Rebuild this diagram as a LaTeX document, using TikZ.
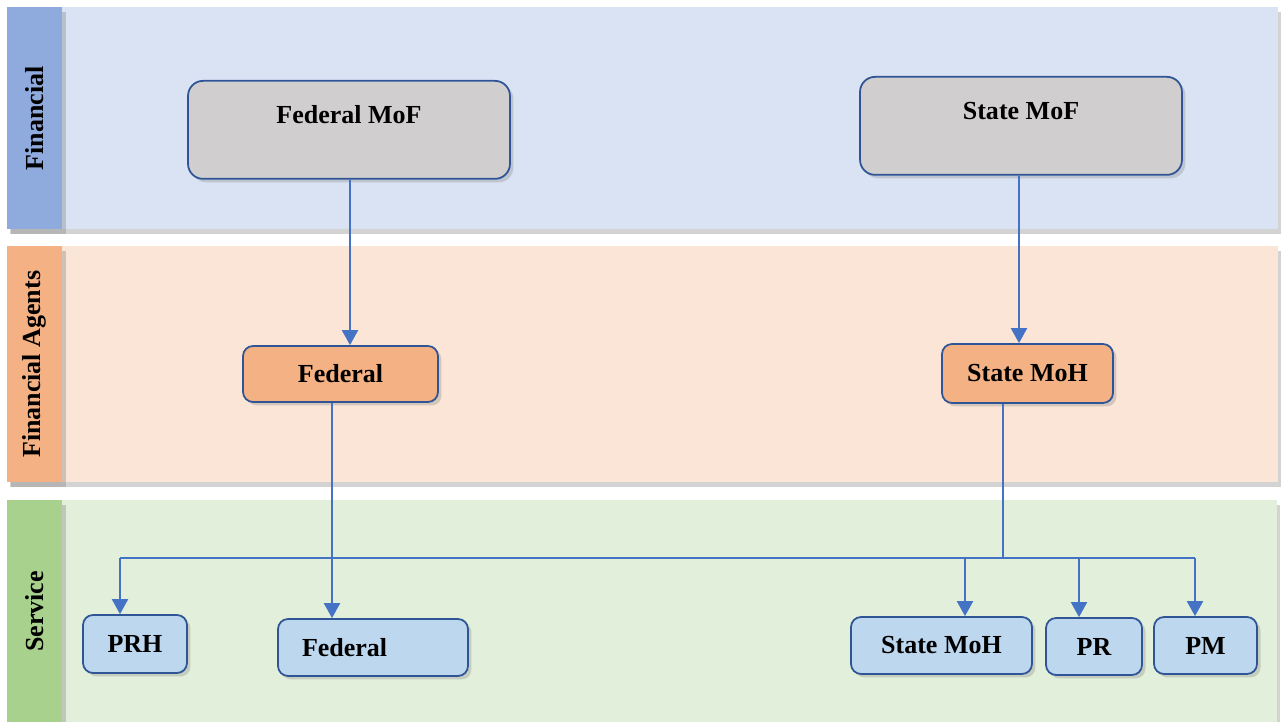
\documentclass[tikz,border=0pt]{standalone}
\usepackage{fontspec}
\setmainfont{Liberation Serif}
\usepackage{xcolor}
\usetikzlibrary{arrows.meta,shadows}

\definecolor{finbg}{HTML}{DAE3F3}
\definecolor{finhead}{HTML}{8FAADC}
\definecolor{agentbg}{HTML}{FBE5D6}
\definecolor{agenthead}{HTML}{F4B183}
\definecolor{servbg}{HTML}{E2EFDA}
\definecolor{servhead}{HTML}{A9D18E}
\definecolor{mofgray}{HTML}{D0CECE}
\definecolor{agentfill}{HTML}{F4B183}
\definecolor{servfill}{HTML}{BDD7EE}
\definecolor{boxline}{HTML}{2F5597}
\definecolor{linkblue}{HTML}{4472C4}

\tikzset{
	lane/.style={rectangle,anchor=north west,inner sep=0pt,
		drop shadow={opacity=0.35,shadow xshift=0.05cm,shadow yshift=-0.1cm}},
	lanehead/.style={rectangle,anchor=north west,inner sep=0pt,minimum width=1.1cm,
		drop shadow={opacity=0.35,shadow xshift=0.08cm,shadow yshift=-0.1cm}},
	lanetitle/.style={rotate=90,font=\fontsize{14.8}{17}\selectfont\bfseries},
	unit/.style={rectangle,rounded corners=0.2cm,draw=boxline,line width=0.035cm,
		font=\fontsize{14.8}{17}\selectfont\bfseries,inner sep=0pt,
		drop shadow={opacity=0.3,shadow xshift=0.07cm,shadow yshift=-0.07cm}},
	ministry/.style={unit,fill=mofgray,rounded corners=0.3cm,anchor=north,
		minimum width=6.44cm,text height=0.86cm,text depth=1.1cm},
	agent/.style={unit,fill=agentfill},
	provider/.style={unit,fill=servfill},
	link/.style={draw=linkblue,line width=0.04cm},
	flow/.style={link,-{Triangle[width=0.32cm,length=0.3cm]}}
}

\begin{document}
\begin{tikzpicture}[x=0.02cm,y=-0.02cm]
	\useasboundingbox (0,0) rectangle (1282,722);

	% swim lanes
	\node[lane,fill=finbg,minimum width=25.42cm,minimum height=4.44cm] (finlane) at (7,7) {};
	\node[lane,fill=agentbg,minimum width=25.42cm,minimum height=4.72cm] (agentlane) at (7,246) {};
	\node[lane,fill=servbg,minimum width=25.4cm,minimum height=4.44cm] (servlane) at (7,500) {};
	\node[lanehead,fill=finhead,minimum height=4.44cm] (finhead) at (7,7) {};
	\node[lanehead,fill=agenthead,minimum height=4.72cm] (agenthead) at (7,246) {};
	\node[lanehead,fill=servhead,minimum height=4.44cm] (servhead) at (7,500) {};
	\node[lanetitle] (fintitle) at (finhead.center) {Financial};
	\node[lanetitle] (agenttitle) at (agenthead.center) {Financial Agents};
	\node[lanetitle] (servtitle) at (34.5,611.5) {Service};

	% financial level
	\node[ministry] (fedmof) at (349,80) {Federal MoF};
	\node[ministry] (statemof) at (1021,76) {State MoF};

	% financial agents
	\node[agent,minimum width=3.9cm,minimum height=1.12cm] (fedagent) at (340.5,374) {Federal};
	\node[agent,minimum width=3.42cm,minimum height=1.18cm] (stateagent) at (1027.5,373.5) {State MoH};

	% service providers
	\node[provider,minimum width=2.08cm,minimum height=1.16cm] (prh) at (135,644) {PRH};
	\node[provider,minimum height=1.14cm,text width=2.84cm,inner xsep=0.48cm,align=left] (fedserv) at (373,647.5) {Federal};
	\node[provider,minimum width=3.62cm,minimum height=1.14cm] (stateserv) at (941.5,645.5) {State MoH};
	\node[provider,minimum width=1.92cm,minimum height=1.14cm] (pr) at (1094,646.5) {PR};
	\node[provider,minimum width=2.06cm,minimum height=1.14cm] (pm) at (1205.5,645.5) {PM};

	% distribution bus
	\coordinate (dprh) at (120,558);
	\coordinate (dfed) at (332,558);
	\coordinate (dstate) at (1003,558);
	\coordinate (dsmoh) at (965,558);
	\coordinate (dpr) at (1079,558);
	\coordinate (dpm) at (1195,558);

	\draw[flow] ([xshift=0.02cm]fedmof.south) -- ([xshift=0.02cm]fedmof.south |- fedagent.north);
	\draw[flow] ([xshift=-0.04cm]statemof.south) -- ([xshift=-0.04cm]statemof.south |- stateagent.north);
	\draw[link] (fedagent.south -| dfed) -- (dfed);
	\draw[link] (stateagent.south -| dstate) -- (dstate);
	\draw[link] (dprh) -- (dpm);
	\draw[flow] (dprh) -- (dprh |- prh.north);
	\draw[flow] (dfed) -- (dfed |- fedserv.north);
	\draw[flow] (dsmoh) -- (dsmoh |- stateserv.north);
	\draw[flow] (dpr) -- (dpr |- pr.north);
	\draw[flow] (dpm) -- (dpm |- pm.north);
\end{tikzpicture}
\end{document}
